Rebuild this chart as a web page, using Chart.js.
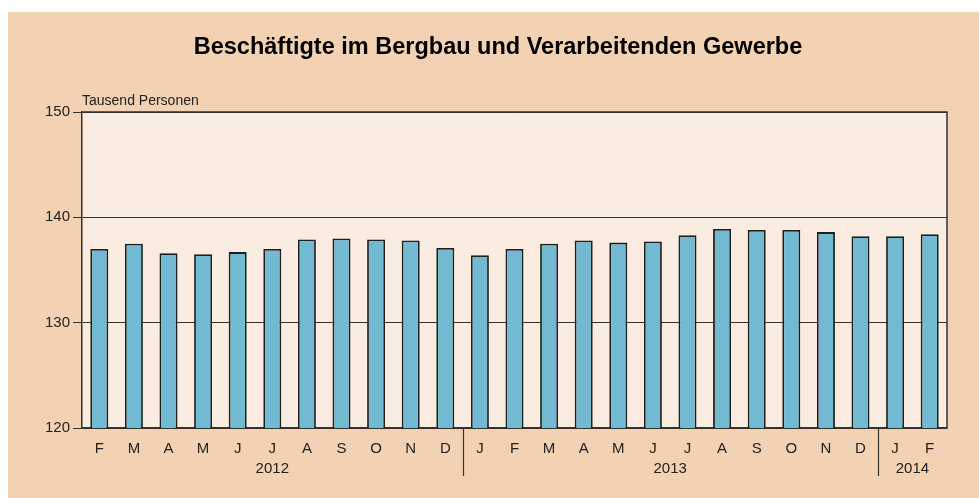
<!DOCTYPE html>
<html>
<head>
<meta charset="utf-8">
<script src="https://cdn.jsdelivr.net/npm/chart.js@4/dist/chart.umd.min.js"></script>
<style>
  html, body { margin: 0; padding: 0; background: #fff; }
  #wrap { width: 979px; height: 498px; }
</style>
</head>
<body>
<div id="wrap"><canvas id="chart" width="979" height="498"></canvas></div>
<script>
// months Feb 2012 .. Feb 2014
const months = ["F", "M", "A", "M", "J", "J", "A", "S", "O", "N", "D",
  "J", "F", "M", "A", "M", "J", "J", "A", "S", "O", "N", "D",
  "J", "F"];
// Tausend Personen
const employed = [137.0, 137.5, 136.6, 136.5, 136.7, 137.0, 137.9, 138.0, 137.9, 137.8, 137.1,
  136.4, 137.0, 137.5, 137.8, 137.6, 137.7, 138.3, 138.9, 138.8, 138.8, 138.6, 138.2,
  138.2, 138.4];
const years = ["2012", "2013", "2014"];
const yearCounts = [11, 12, 2];
const yTicks = [120, 130, 140, 150];

const textColor = "#222";
const outerBg = "#f3d1b3";
const plotBg = "#faece0";

// draws backgrounds, title, unit label, borders, year labels and separators
const decor = {
  id: "decor",
  beforeDraw(chart) {
    const { ctx, chartArea: a } = chart;
    ctx.save();
    ctx.fillStyle = "#fff";
    ctx.fillRect(0, 0, chart.width, chart.height);
    ctx.fillStyle = outerBg;
    ctx.fillRect(8, 12, chart.width - 8, chart.height - 12);
    ctx.fillStyle = plotBg;
    ctx.fillRect(a.left, a.top, a.right - a.left, a.bottom - a.top);
    ctx.restore();
  },
  afterDraw(chart) {
    const { ctx, chartArea: a } = chart;
    const x = chart.scales.x;
    ctx.save();
    ctx.fillStyle = "#000";
    ctx.font = "bold 23.5px 'Liberation Sans', Arial, sans-serif";
    ctx.textAlign = "center";
    ctx.textBaseline = "middle";
    ctx.fillText("Beschäftigte im Bergbau und Verarbeitenden Gewerbe", 498, 48);

    ctx.fillStyle = textColor;
    ctx.font = "14px 'Liberation Sans', Arial, sans-serif";
    ctx.textAlign = "left";
    ctx.textBaseline = "alphabetic";
    ctx.fillText("Tausend Personen", a.left, a.top - 7);

    // top and right border
    ctx.strokeStyle = "#333";
    ctx.lineWidth = 1.5;
    ctx.beginPath();
    ctx.moveTo(a.left, a.top);
    ctx.lineTo(a.right, a.top);
    ctx.lineTo(a.right, a.bottom);
    ctx.stroke();

    // year labels and separators
    ctx.font = "15px 'Liberation Sans', Arial, sans-serif";
    ctx.textAlign = "center";
    ctx.textBaseline = "middle";
    let start = 0;
    years.forEach((yr, i) => {
      const end = start + yearCounts[i] - 1;
      const cx = (x.getPixelForValue(start) + x.getPixelForValue(end)) / 2;
      ctx.fillText(yr, cx, 469);
      if (i < years.length - 1) {
        const sx = Math.round((x.getPixelForValue(end) + x.getPixelForValue(end + 1)) / 2) + 0.5;
        ctx.lineWidth = 1.2;
        ctx.beginPath();
        ctx.moveTo(sx, a.bottom);
        ctx.lineTo(sx, 476);
        ctx.stroke();
      }
      start = end + 1;
    });
    ctx.restore();
  }
};

const ctx = document.getElementById("chart").getContext("2d");
const chart = new Chart(ctx, {
  type: "bar",
  data: {
    labels: months,
    datasets: [{
      data: employed,
      backgroundColor: "#72bad1",
      borderColor: "#1e1e1e",
      borderWidth: 1.8,
      borderSkipped: false,
      categoryPercentage: 1,
      barPercentage: 0.52
    }]
  },
  options: {
    responsive: false,
    animation: false,
    layout: { padding: { top: 112, right: 32, left: 0, bottom: 0 } },
    plugins: { legend: { display: false }, tooltip: { enabled: false } },
    scales: {
      x: {
        grid: { display: false },
        border: { display: true, color: "#333", width: 1.5 },
        ticks: {
          color: textColor,
          font: { family: "'Liberation Sans', Arial, sans-serif", size: 15 },
          padding: 4,
          maxRotation: 0,
          autoSkip: false
        },
        afterFit(scale) { scale.height = 70; }
      },
      y: {
        min: 120,
        max: 150,
        afterBuildTicks(scale) { scale.ticks = yTicks.map(v => ({ value: v })); },
        grid: { color: "#333", lineWidth: 1, tickLength: 9, drawTicks: true },
        border: { display: true, color: "#333", width: 1.5 },
        ticks: {
          color: textColor,
          font: { family: "'Liberation Sans', Arial, sans-serif", size: 15 },
          padding: 3
        },
        afterFit(scale) { scale.width = 82; }
      }
    }
  },
  plugins: [decor]
});
</script>
</body>
</html>
